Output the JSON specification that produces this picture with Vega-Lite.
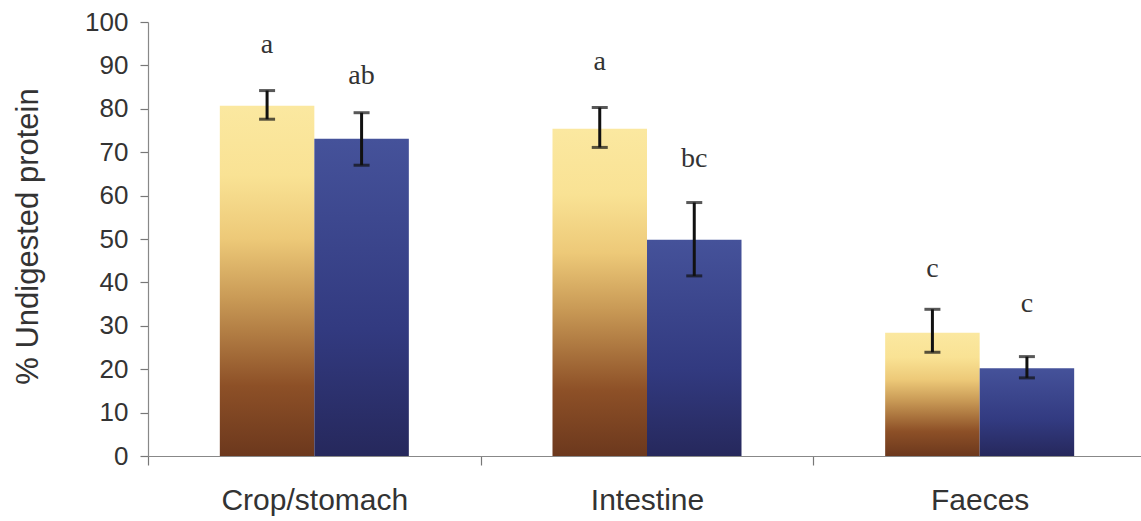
{
  "$schema": "https://vega.github.io/schema/vega-lite/v6.json",
  "autosize": "none",
  "width": 993,
  "height": 434,
  "padding": {"left": 148, "top": 22, "right": 0, "bottom": 65},
  "background": "white",
  "config": {"view": {"stroke": null}},
  "data": {
    "values": [
      {"group": "Crop/stomach", "series": "A", "mean": 80.7, "lo": 77.6, "hi": 84.2, "letter": "a", "letterPos": 92.9},
      {"group": "Crop/stomach", "series": "B", "mean": 73.1, "lo": 67.0, "hi": 79.1, "letter": "ab", "letterPos": 85.6},
      {"group": "Intestine", "series": "A", "mean": 75.4, "lo": 71.1, "hi": 80.3, "letter": "a", "letterPos": 88.9},
      {"group": "Intestine", "series": "B", "mean": 49.8, "lo": 41.5, "hi": 58.4, "letter": "bc", "letterPos": 66.5},
      {"group": "Faeces", "series": "A", "mean": 28.4, "lo": 23.9, "hi": 33.8, "letter": "c", "letterPos": 41.3},
      {"group": "Faeces", "series": "B", "mean": 20.2, "lo": 18.0, "hi": 22.9, "letter": "c", "letterPos": 33.2}
    ]
  },
  "encoding": {
    "x": {
      "field": "group",
      "type": "nominal",
      "sort": ["Crop/stomach", "Intestine", "Faeces"],
      "scale": {"range": [0, 998], "paddingInner": 0, "paddingOuter": 0},
      "axis": {
        "title": null,
        "labelAngle": 0,
        "labelLimit": 0,
        "labelFont": "Liberation Sans",
        "labelFontSize": 30,
        "labelColor": "#333333",
        "labelPadding": 20,
        "labelBaseline": "top",
        "tickBand": "extent",
        "tickSize": 9,
        "tickColor": "#777777",
        "domainColor": "#888888",
        "domainWidth": 1.2,
        "tickWidth": 1.2
      }
    },
    "xOffset": {
      "field": "series",
      "type": "nominal",
      "scale": {"paddingInner": 0, "paddingOuter": 0.76}
    }
  },
  "layer": [
    {
      "transform": [{"filter": "datum.series === 'A'"}],
      "mark": {
        "type": "bar",
        "color": {
          "gradient": "linear",
          "x1": 0, "y1": 1, "x2": 0, "y2": 0,
          "stops": [
            {"offset": 0, "color": "#6c381d"},
            {"offset": 0.2, "color": "#8d5027"},
            {"offset": 0.45, "color": "#c99a56"},
            {"offset": 0.62, "color": "#edc978"},
            {"offset": 0.8, "color": "#f9e294"},
            {"offset": 1, "color": "#fbe8a0"}
          ]
        }
      },
      "encoding": {
        "y": {
          "field": "mean",
          "type": "quantitative",
          "scale": {"domain": [0, 100], "nice": false},
          "axis": {
            "values": [0, 10, 20, 30, 40, 50, 60, 70, 80, 90, 100],
            "grid": false,
            "title": "% Undigested protein",
            "titleFont": "Liberation Sans",
            "titleFontSize": 31,
            "titleFontWeight": "normal",
            "titleColor": "#333333",
            "titleAngle": -90,
            "titleAlign": "center",
            "titleBaseline": "alphabetic",
            "titleX": -111,
            "titleY": 214,
            "labelFont": "Liberation Sans",
            "labelFontSize": 26,
            "labelColor": "#333333",
            "labelPadding": 12,
            "tickSize": 8,
            "tickColor": "#777777",
            "domainColor": "#888888",
            "domainWidth": 1.2,
            "tickWidth": 1.2
          }
        }
      }
    },
    {
      "transform": [{"filter": "datum.series === 'B'"}],
      "mark": {
        "type": "bar",
        "color": {
          "gradient": "linear",
          "x1": 0, "y1": 1, "x2": 0, "y2": 0,
          "stops": [
            {"offset": 0, "color": "#26285c"},
            {"offset": 0.4, "color": "#323a80"},
            {"offset": 1, "color": "#45529a"}
          ]
        }
      },
      "encoding": {
        "y": {"field": "mean", "type": "quantitative"}
      }
    },
    {
      "mark": {"type": "rule", "color": "#111111", "strokeWidth": 3},
      "encoding": {
        "y": {"field": "lo", "type": "quantitative"},
        "y2": {"field": "hi"}
      }
    },
    {
      "mark": {"type": "tick", "color": "#111111", "size": 16, "thickness": 3, "orient": "horizontal"},
      "encoding": {
        "y": {"field": "hi", "type": "quantitative"}
      }
    },
    {
      "mark": {"type": "tick", "color": "#111111", "size": 16, "thickness": 3, "orient": "horizontal"},
      "encoding": {
        "y": {"field": "lo", "type": "quantitative"}
      }
    },
    {
      "mark": {"type": "text", "font": "Liberation Serif", "fontSize": 28, "color": "#333333", "baseline": "alphabetic", "align": "center"},
      "encoding": {
        "y": {"field": "letterPos", "type": "quantitative"},
        "text": {"field": "letter"}
      }
    }
  ]
}
